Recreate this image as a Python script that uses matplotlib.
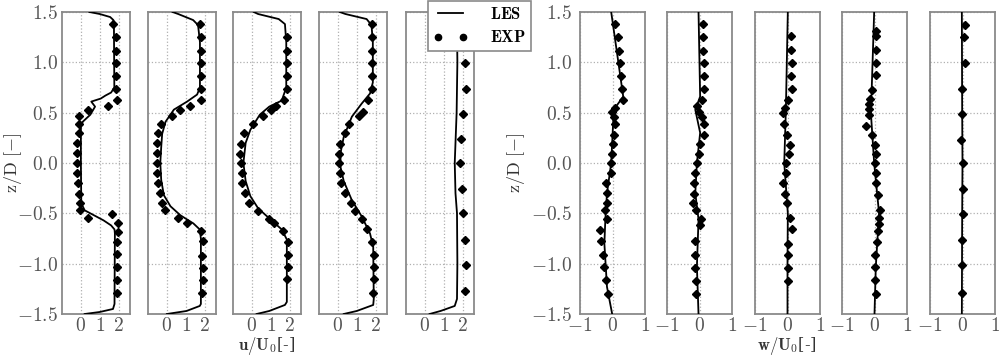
import matplotlib
matplotlib.use("Agg")
import matplotlib.pyplot as plt
from matplotlib.ticker import FuncFormatter, FixedLocator
from matplotlib.lines import Line2D

plt.rcParams['mathtext.fontset'] = 'cm'
plt.rcParams['font.family'] = ['DejaVu Serif']

# ---- streamwise velocity u/U0, LES lines (u, z) ----
u_les_z = [1.5, 1.48, 1.45, 1.42, 1.35, 0.75, 0.70, 0.67, 0.64, 0.61, 0.56, 0.48, 0.41, 0.36,
           0.0, -0.40, -0.47, -0.52, -0.57, -0.62, -0.66, -0.70, -1.40, -1.45, -1.48, -1.5]
u_les_1 = [0.45, 1.0, 1.55, 1.72, 1.75, 1.77, 1.6, 1.3, 1.05, 0.55, 0.75, 0.5, 0.1, 0.0,
           0.0, 0.02, 0.2, 0.7, 1.2, 1.6, 1.78, 1.8, 1.78, 1.7, 1.0, 0.2]

u_les2_z = [1.5, 1.48, 1.42, 1.37, 1.2, 0.75, 0.68, 0.61, 0.53, 0.41, 0.29, 0.16, 0.0, -0.17,
            -0.32, -0.43, -0.52, -0.60, -0.66, -0.75, -1.40, -1.42, -1.47, -1.5]
u_les_2 = [0.3, 0.6, 1.39, 1.65, 1.75, 1.75, 1.6, 1.07, 0.37, -0.07, -0.25, -0.3, -0.35, -0.3,
           -0.16, 0.19, 0.72, 1.4, 1.74, 1.8, 1.8, 1.74, 1.04, 0.0]

u_les3_z = [1.5, 1.48, 1.43, 1.38, 1.2, 0.75, 0.62, 0.56, 0.48, 0.33, 0.2, 0.0, -0.18, -0.33,
            -0.45, -0.55, -0.66, -0.76, -1.38, -1.41, -1.47, -1.5]
u_les_3 = [0.1, 0.33, 1.42, 1.75, 1.82, 1.82, 1.58, 0.92, 0.42, -0.08, -0.33, -0.45, -0.33, -0.08,
           0.33, 0.92, 1.58, 1.85, 1.85, 1.75, 0.92, 0.25]

u_les4_z = [1.5, 1.48, 1.43, 1.37, 1.2, 0.80, 0.69, 0.59, 0.46, 0.26, 0.10, -0.04, -0.18, -0.37,
            -0.53, -0.70, -0.83, -1.35, -1.41, -1.47, -1.5]
u_les_4 = [0.1, 0.4, 1.52, 1.78, 1.85, 1.85, 1.7, 1.26, 0.74, 0.31, 0.14, 0.14, 0.31, 0.74,
           1.26, 1.7, 1.87, 1.9, 1.87, 1.0, 0.31]

u_les5_z = [1.5, 1.47, 1.42, 1.35, 1.0, 0.5, 0.0, -0.3, -0.5, -1.0, -1.35, -1.42, -1.47, -1.5]
u_les_5 = [0.25, 0.85, 1.58, 1.7, 1.72, 1.68, 1.58, 1.62, 1.7, 1.72, 1.7, 1.58, 0.83, 0.25]

# ---- streamwise velocity, experiment points ----
u_exp1_z = [1.38, 1.25, 1.11, 0.99, 0.86, 0.74, 0.63, 0.57, 0.53, 0.47, 0.39, 0.30, 0.20, 0.10,
            0.0, -0.10, -0.20, -0.31, -0.40, -0.47, -0.55, -0.51, -0.60, -0.69, -0.78, -0.90,
            -1.03, -1.16, -1.29]
u_exp_1 = [1.72, 1.84, 1.84, 1.84, 1.84, 1.88, 1.93, 1.46, 0.39, -0.09, -0.12, -0.12, -0.18, -0.21,
           -0.21, -0.18, -0.14, -0.09, -0.05, -0.05, 0.35, 1.63, 1.96, 1.96, 1.93, 1.93,
           1.93, 1.93, 1.93]

u_exp2_z = [1.38, 1.25, 1.11, 0.99, 0.86, 0.74, 0.63, 0.57, 0.53, 0.47, 0.39, 0.30, 0.20, 0.10,
            0.0, -0.10, -0.20, -0.30, -0.40, -0.47, -0.55, -0.60, -0.68, -0.77, -0.92, -1.04,
            -1.16, -1.29]
u_exp_2 = [1.74, 1.79, 1.79, 1.79, 1.79, 1.82, 1.79, 1.21, 0.68, 0.25, -0.33, -0.46, -0.51, -0.51,
           -0.51, -0.51, -0.46, -0.37, -0.28, -0.11, 0.6, 1.04, 1.82, 1.91, 1.88, 1.91,
           1.91, 1.88]

u_exp3_z = [1.25, 1.11, 0.99, 0.86, 0.74, 0.63, 0.57, 0.53, 0.47, 0.39, 0.30, 0.19, 0.09, 0.0,
            -0.10, -0.20, -0.30, -0.40, -0.48, -0.56, -0.60, -0.68, -0.78, -0.91, -1.03, -1.15]
u_exp_3 = [1.88, 1.88, 1.88, 1.88, 1.88, 1.72, 1.25, 1.0, 0.58, 0.05, -0.42, -0.58, -0.62, -0.58,
           -0.55, -0.5, -0.38, -0.17, 0.33, 0.92, 1.17, 1.67, 1.92, 1.92, 1.92, 1.88]

u_exp4_z = [1.38, 1.25, 1.11, 0.99, 0.86, 0.74, 0.63, 0.51, 0.47, 0.39, 0.30, 0.19, 0.09, 0.0,
            -0.10, -0.20, -0.30, -0.40, -0.48, -0.56, -0.66, -0.78, -0.91, -1.03, -1.15, -1.29]
u_exp_4 = [1.83, 1.83, 1.83, 1.83, 1.83, 1.83, 1.6, 1.35, 1.1, 0.57, 0.4, 0.11, 0.05, 0.05,
           0.11, 0.18, 0.4, 0.69, 0.92, 1.26, 1.52, 1.78, 1.9, 1.9, 1.9, 1.87]

u_exp5_z = [1.24, 0.99, 0.74, 0.49, 0.24, 0.0, -0.26, -0.50, -0.76, -1.01, -1.27]
u_exp_5 = [2.1, 2.13, 2.17, 2.03, 1.92, 1.88, 1.95, 2.03, 2.13, 2.17, 2.12]

# ---- vertical velocity w/U0, LES lines ----
w_les1_z = [1.5, 0.66, 0.53, 0.0, -0.30, -0.56, -0.80, -1.23, -1.5]
w_les_1 = [-0.04, 0.33, 0.04, -0.04, -0.17, -0.22, -0.25, -0.17, -0.01]
w_les2_z = [1.5, 0.66, 0.53, 0.30, 0.0, -0.30, -0.56, -1.03, -1.5]
w_les_2 = [-0.03, 0.02, -0.13, 0.02, -0.08, -0.13, -0.03, -0.08, -0.03]
w_les3_z = [1.5, 0.53, 0.0, -0.50, -1.0, -1.5]
w_les_3 = [0.01, -0.05, -0.1, 0.01, 0.0, 0.0]
w_les4_z = [1.5, 0.49, 0.0, -0.50, -1.03, -1.5]
w_les_4 = [-0.01, -0.11, -0.01, 0.14, 0.04, 0.0]
w_les5_z = [1.5, 0.5, 0.0, -0.5, -1.5]
w_les_5 = [-0.02, -0.01, 0.0, -0.01, -0.02]

# ---- vertical velocity, experiment points ----
w_exp1_z = [1.38, 1.25, 1.11, 0.99, 0.86, 0.74, 0.63, 0.55, 0.51, 0.46, 0.39, 0.28, 0.19, 0.09,
            0.0, -0.10, -0.20, -0.30, -0.40, -0.47, -0.56, -0.67, -0.77, -0.91, -1.03, -1.16, -1.30]
w_exp_1 = [0.09, 0.18, 0.2, 0.23, 0.27, 0.3, 0.33, 0.09, -0.01, 0.04, 0.09, 0.06, 0.02, -0.01,
           -0.04, -0.04, -0.19, -0.17, -0.17, -0.22, -0.17, -0.37, -0.35, -0.29, -0.25, -0.19, -0.15]
w_exp2_z = [1.38, 1.25, 1.11, 0.99, 0.86, 0.74, 0.63, 0.57, 0.51, 0.46, 0.39, 0.28, 0.19, 0.09,
            0.0, -0.10, -0.20, -0.31, -0.40, -0.47, -0.56, -0.62, -0.77, -0.91, -1.04, -1.17, -1.30]
w_exp_2 = [0.1, 0.1, 0.12, 0.14, 0.14, 0.15, 0.07, -0.08, -0.03, 0.07, 0.14, 0.14, 0.0, -0.03,
           -0.08, -0.13, -0.16, -0.16, -0.2, -0.1, 0.04, 0.02, -0.13, -0.13, -0.13, -0.1, -0.1]
w_exp3_z = [1.26, 1.12, 0.99, 0.86, 0.74, 0.63, 0.55, 0.50, 0.39, 0.28, 0.18, 0.09, 0.0, -0.10,
            -0.20, -0.31, -0.40, -0.55, -0.66, -0.80, -0.91, -1.04, -1.17]
w_exp_3 = [0.12, 0.12, 0.14, 0.12, 0.14, 0.02, -0.08, -0.13, -0.1, -0.03, 0.08, 0.05, -0.06, -0.06,
           -0.13, -0.08, -0.03, 0.08, 0.14, 0.02, 0.0, 0.0, 0.0]
w_exp4_z = [1.31, 1.26, 1.12, 0.99, 0.87, 0.73, 0.64, 0.59, 0.54, 0.48, 0.37, 0.28, 0.18, 0.09,
            0.0, -0.10, -0.20, -0.32, -0.47, -0.55, -0.61, -0.68, -0.78, -0.91, -1.03, -1.16, -1.30]
w_exp_4 = [0.04, 0.06, 0.06, 0.06, 0.04, -0.08, -0.15, -0.18, -0.18, -0.18, -0.26, -0.08, 0.02, 0.04,
           0.02, 0.04, 0.06, 0.11, 0.16, 0.14, 0.14, 0.11, 0.08, 0.02, 0.02, 0.02, 0.04]
w_exp5_z = [1.37, 1.25, 0.99, 0.74, 0.49, 0.23, 0.0, -0.26, -0.51, -0.76, -1.01, -1.29]
w_exp_5 = [0.08, 0.05, 0.08, -0.02, -0.02, -0.05, 0.01, 0.01, 0.01, -0.02, -0.02, -0.02]

u_panels = [(u_les_1, u_les_z, u_exp_1, u_exp1_z),
            (u_les_2, u_les2_z, u_exp_2, u_exp2_z),
            (u_les_3, u_les3_z, u_exp_3, u_exp3_z),
            (u_les_4, u_les4_z, u_exp_4, u_exp4_z),
            (u_les_5, u_les5_z, u_exp_5, u_exp5_z)]
w_panels = [(w_les_1, w_les1_z, w_exp_1, w_exp1_z),
            (w_les_2, w_les2_z, w_exp_2, w_exp2_z),
            (w_les_3, w_les3_z, w_exp_3, w_exp3_z),
            (w_les_4, w_les4_z, w_exp_4, w_exp4_z),
            (w_les_5, w_les5_z, w_exp_5, w_exp5_z)]

W, H = 999, 358
fig = plt.figure(figsize=(W / 100, H / 100), dpi=100)

u_left = [62, 148, 233, 319, 406]
w_left = [580, 667, 755, 842, 930]
top, bottom = 12, 314
ytick_vals = [-1.5, -1.0, -0.5, 0.0, 0.5, 1.0, 1.5]
tick_fs = 14


def make_panel(x0, width, les_x, les_z, exp_x, exp_z, xlim, xticks, first, ypad=3):
    ax = fig.add_axes([x0 / W, 1 - bottom / H, width / W, (bottom - top) / H])
    ax.plot(les_x, les_z, color='black', lw=1.3, zorder=3)
    ax.plot(exp_x, exp_z, ls='none', marker='D', ms=4.5, color='black', zorder=4)
    ax.set_xlim(*xlim)
    ax.set_ylim(-1.5, 1.5)
    ax.xaxis.set_major_locator(FixedLocator(xticks))
    ax.yaxis.set_major_locator(FixedLocator(ytick_vals))
    ax.xaxis.set_major_formatter(FuncFormatter(lambda v, p: r'$%d$' % round(v)))
    ax.yaxis.set_major_formatter(FuncFormatter(lambda v, p: r'$%.1f$' % v))
    ax.grid(True, ls=':', color='#b0b0b0', lw=0.9)
    ax.tick_params(length=0, labelsize=tick_fs, colors='#555555')
    ax.tick_params(axis='x', pad=2)
    ax.tick_params(axis='y', pad=ypad)
    if not first:
        ax.tick_params(labelleft=False)
    for s in ax.spines.values():
        s.set_color('#8a8a8a')
        s.set_linewidth(1.3)
    return ax


for i, (lx, lz, ex, ez) in enumerate(u_panels):
    make_panel(u_left[i], 68, lx, lz, ex, ez, (-1, 2.6), [0, 1, 2], i == 0)
for i, (lx, lz, ex, ez) in enumerate(w_panels):
    make_panel(w_left[i], 65, lx, lz, ex, ez, (-1, 1), [-1, 0, 1], i == 0, ypad=6)

lab_kw = dict(fontsize=13, color='#333333', ha='center')
fig.text(13 / W, 1 - 163 / H, r'$\mathrm{z/D\ [-]}$', rotation=90, va='center', **lab_kw)
fig.text(516 / W, 1 - 163 / H, r'$\mathrm{z/D\ [-]}$', rotation=90, va='center', **lab_kw)
xlab_kw = dict(fontsize=12, color='#333333', ha='center', va='bottom')
fig.text(267 / W, 1 - 357 / H, r'$\mathbf{u/U_0}$[-]', **xlab_kw)
fig.text(787 / W, 1 - 357 / H, r'$\mathbf{w/U_0}$[-]', **xlab_kw)

handles = [Line2D([], [], color='black', lw=1.3),
           Line2D([], [], ls='none', marker='o', ms=4.5, color='black')]
leg = fig.legend(handles, [r'$\mathbf{LES}$', r'$\mathbf{EXP}$'], loc='upper left',
                 bbox_to_anchor=(428 / W, 0.998), numpoints=2, fancybox=False,
                 fontsize=12, frameon=True, borderpad=0.3, handlelength=2.1,
                 handletextpad=1.3, labelspacing=0.4, borderaxespad=0)
leg.get_frame().set_edgecolor('#8a8a8a')
leg.get_frame().set_linewidth(1.2)
leg.get_frame().set_alpha(1)

fig.savefig('out.png', dpi=100)
